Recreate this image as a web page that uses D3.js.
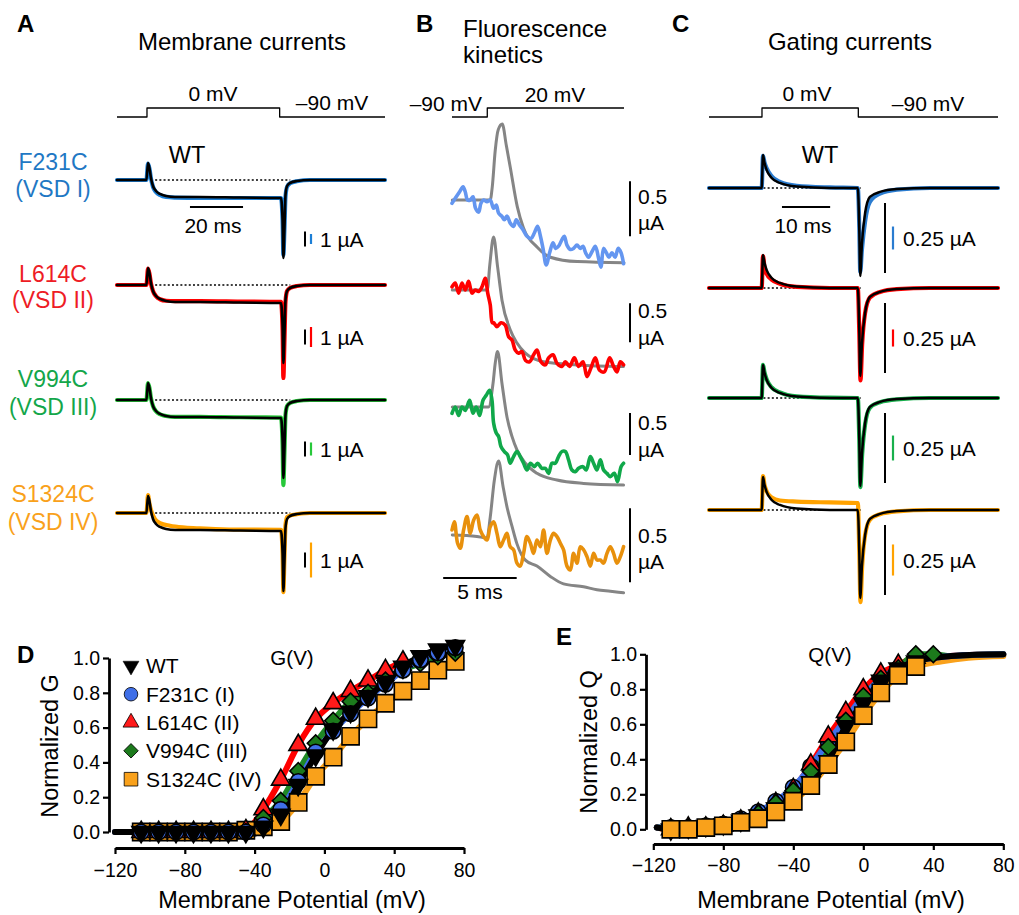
<!DOCTYPE html>
<html><head><meta charset="utf-8">
<script src="https://cdn.jsdelivr.net/npm/d3@7"></script>
<style>body{margin:0;background:#fff}</style>
</head><body>
<svg id="fig" width="1019" height="915"></svg>
<script>
// ======================= DATA =======================
const mutants = ["F231C", "L614C", "V994C", "S1324C"];
const domainsVSD = ["(VSD I)", "(VSD II)", "(VSD III)", "(VSD IV)"];
const legendLabels = ["WT", "F231C (I)", "L614C (II)", "V994C (III)", "S1324C (IV)"];

// Voltage protocols [time ms, mV]
const protocolA = [[-11.3,-90],[0,-90],[0,0],[50,0],[50,-90],[89.7,-90]];
const protocolB = [[-2.4,-90],[0,-90],[0,20],[9.3,20]];
const protocolC = [[-11,-90],[0,-90],[0,0],[20,0],[20,-90],[49,-90]];

// A: membrane currents [ms, µA (WT scale)]
const membraneWT = [[-11.3,0],[-0.2,0],[0.38,1.13],[0.94,0.8],[1.5,0.13],[2.26,-0.4],[3.4,-0.73],[4.9,-0.93],[7.2,-1.07],[10.6,-1.13],[20,-1.13],[35,-1.17],[50.5,-1.2],[51.1,-2.7],[51.4,-5.2],[51.8,-3.3],[52.2,-1.0],[52.8,-0.4],[53.9,-0.2],[56.5,-0.07],[61.4,0],[89.7,0]];
const membraneF231C = [[-11.3,0],[-0.2,0],[0.38,1.1],[0.94,0.75],[1.5,0.1],[2.26,-0.45],[3.4,-0.8],[4.9,-1.0],[7.2,-1.13],[10.6,-1.17],[20,-1.2],[35,-1.2],[50.5,-1.2],[51.1,-2.7],[51.4,-5.0],[51.8,-3.3],[52.2,-1.1],[52.8,-0.45],[53.9,-0.22],[56.5,-0.08],[61.4,0],[89.7,0]];
const membraneL614C = [[-11.3,0],[-0.2,0],[0.38,1.1],[0.94,0.75],[1.5,0.1],[2.26,-0.4],[3.4,-0.75],[4.9,-0.95],[7.2,-1.05],[10.6,-1.07],[20,-1.07],[35,-1.1],[50.5,-1.13],[51.1,-3.0],[51.4,-6.2],[51.8,-3.8],[52.2,-1.1],[52.8,-0.4],[53.9,-0.2],[56.5,-0.07],[61.4,0],[89.7,0]];
const membraneV994C = [[-11.3,0],[-0.2,0],[0.38,1.13],[0.94,0.8],[1.5,0.13],[2.26,-0.4],[3.4,-0.75],[4.9,-0.95],[7.2,-1.07],[10.6,-1.13],[20,-1.13],[35,-1.15],[50.5,-1.17],[51.1,-3.0],[51.4,-5.67],[51.8,-3.5],[52.2,-1.0],[52.8,-0.4],[53.9,-0.2],[56.5,-0.07],[61.4,0],[89.7,0]];
const membraneS1324C = [[-11.3,0],[-0.2,0],[0.38,1.2],[0.94,0.6],[1.9,0],[3.0,-0.4],[4.9,-0.67],[8.7,-0.85],[14.3,-0.97],[20,-1.03],[31,-1.1],[50.5,-1.13],[51.1,-2.7],[51.4,-5.27],[51.8,-3.0],[52.2,-0.8],[52.8,-0.27],[54.8,-0.13],[61.4,0],[89.7,0]];
// colored "1 µA" bar of each mutant, in WT µA
const mutantBarA = [0.67, 1.33, 0.87, 2.33];

// B: gating current (gray) and fluorescence (colored) [ms, µA]
const gatingB1 = [[-2.38,0],[0.2,0],[0.34,0.12],[0.54,0.45],[0.75,0.64],[1.02,0.69],[1.29,0.5],[1.56,0.3],[2.04,-0.06],[2.45,-0.25],[3.4,-0.43],[4.29,-0.52],[6.12,-0.56],[9.3,-0.57]];
const gatingB2 = [[-2.38,0],[0,0],[0.17,0.32],[0.43,0.68],[0.7,0.3],[1.0,-0.13],[1.56,-0.51],[2.02,-0.68],[2.59,-0.81],[3.83,-0.92],[6.1,-0.96],[9.27,-0.98]];
const gatingB3 = [[-2.38,0],[0.09,0],[0.39,0.28],[0.54,0.52],[0.7,0.66],[1.0,0.28],[1.34,-0.12],[1.68,-0.35],[2.02,-0.51],[2.59,-0.67],[3.38,-0.79],[4.74,-0.87],[6.55,-0.91],[9.27,-0.93]];
const gatingB4 = [[-2.38,0],[-0.7,-0.01],[-0.02,-0.02],[0.2,0.12],[0.48,0.37],[0.77,0.5],[1.07,0.33],[1.34,0.19],[1.68,0.06],[2.02,-0.06],[2.59,-0.17],[3.38,-0.21],[4.29,-0.28],[5.19,-0.33],[6.55,-0.35],[7.46,-0.37],[8.37,-0.38],[9.27,-0.39]];
const fluorF231C = [[-2.4,-0.03],[-2.18,0.015],[-1.88,0.075],[-1.65,0.12],[-1.5,0.075],[-1.34,0],[-1.16,0],[-0.97,0.03],[-0.8,-0.075],[-0.59,-0.11],[-0.43,-0.03],[-0.25,0],[-0.02,-0.015],[0.2,0],[0.43,-0.075],[0.61,-0.045],[0.77,-0.12],[1.0,-0.15],[1.16,-0.18],[1.34,-0.145],[1.56,-0.21],[1.79,-0.24],[1.97,-0.18],[2.2,-0.23],[2.43,-0.27],[2.7,-0.33],[2.97,-0.35],[3.2,-0.3],[3.42,-0.24],[3.6,-0.32],[3.79,-0.44],[4.01,-0.59],[4.24,-0.48],[4.47,-0.39],[4.65,-0.44],[4.85,-0.42],[5.08,-0.36],[5.24,-0.33],[5.42,-0.41],[5.65,-0.45],[5.87,-0.44],[6.1,-0.41],[6.33,-0.44],[6.51,-0.42],[6.69,-0.48],[6.89,-0.52],[7.12,-0.47],[7.35,-0.42],[7.57,-0.53],[7.73,-0.61],[7.91,-0.44],[8.1,-0.48],[8.28,-0.52],[8.48,-0.48],[8.69,-0.52],[8.91,-0.44],[9.1,-0.48],[9.27,-0.58]];
const fluorL614C = [[-2.4,0.04],[-2.18,0.09],[-1.95,-0.04],[-1.72,0.09],[-1.5,0],[-1.27,0.11],[-1.04,-0.04],[-0.82,0],[-0.59,-0.02],[-0.36,0.04],[-0.14,0.15],[0.03,-0.04],[0.2,-0.19],[0.34,-0.42],[0.43,-0.42],[0.66,-0.47],[0.93,-0.42],[1.22,-0.45],[1.45,-0.6],[1.68,-0.64],[1.9,-0.77],[2.13,-0.81],[2.36,-0.79],[2.59,-0.9],[2.88,-0.92],[3.15,-0.83],[3.38,-0.77],[3.65,-0.92],[3.95,-0.96],[4.17,-0.87],[4.47,-0.83],[4.74,-0.94],[5.08,-0.98],[5.31,-0.92],[5.6,-0.98],[5.92,-0.87],[6.21,-0.98],[6.51,-0.92],[6.78,-1.11],[7.05,-1.0],[7.35,-0.87],[7.64,-1.03],[7.96,-1.05],[8.32,-0.87],[8.59,-0.98],[8.82,-1.05],[9.05,-0.92],[9.27,-0.96]];
const fluorV994C = [[-2.4,-0.075],[-2.18,0],[-1.95,-0.1],[-1.72,0],[-1.5,-0.04],[-1.2,0.08],[-0.97,-0.075],[-0.75,0],[-0.52,-0.1],[-0.29,0.08],[-0.07,0.14],[0.16,0.2],[0.32,0.08],[0.43,-0.19],[0.61,-0.31],[0.77,-0.35],[0.93,-0.47],[1.16,-0.53],[1.38,-0.57],[1.56,-0.67],[1.79,-0.59],[2.02,-0.53],[2.24,-0.59],[2.47,-0.67],[2.7,-0.75],[2.93,-0.67],[3.2,-0.71],[3.42,-0.67],[3.72,-0.73],[3.95,-0.73],[4.17,-0.79],[4.4,-0.67],[4.63,-0.67],[4.85,-0.59],[5.08,-0.53],[5.31,-0.53],[5.53,-0.63],[5.76,-0.75],[5.99,-0.77],[6.21,-0.73],[6.51,-0.71],[6.73,-0.75],[7.01,-0.59],[7.23,-0.67],[7.46,-0.75],[7.69,-0.63],[7.91,-0.75],[8.14,-0.79],[8.37,-0.83],[8.64,-0.79],[8.86,-0.89],[9.1,-0.71],[9.27,-0.67]];
const fluorS1324C = [[-2.4,0.034],[-2.24,0.09],[-2.02,-0.056],[-1.84,-0.09],[-1.61,0.034],[-1.38,0.124],[-1.16,0.011],[-0.93,0.1],[-0.7,0.135],[-0.48,0.034],[-0.25,-0.011],[-0.02,-0.034],[0.2,0.056],[0.43,0.09],[0.66,0.011],[0.88,-0.079],[1.11,-0.034],[1.34,0.011],[1.56,-0.079],[1.79,-0.1],[2.02,-0.19],[2.24,-0.21],[2.47,-0.124],[2.7,-0.011],[2.93,-0.056],[3.15,-0.124],[3.38,-0.034],[3.61,-0.079],[3.83,0.034],[4.06,-0.124],[4.29,-0.034],[4.51,0.011],[4.74,-0.011],[4.97,-0.056],[5.19,-0.1],[5.42,-0.21],[5.65,-0.236],[5.87,-0.124],[6.1,-0.19],[6.33,-0.079],[6.55,-0.1],[6.78,-0.146],[7.01,-0.21],[7.23,-0.124],[7.46,-0.169],[7.69,-0.169],[7.91,-0.19],[8.14,-0.124],[8.37,-0.079],[8.59,-0.124],[8.82,-0.19],[9.05,-0.146],[9.27,-0.079]];

// C: gating currents [ms, µA]
const gatingWT = [[-11,0],[-0.06,0],[0.21,0.118],[0.52,0.09],[0.98,0.064],[2.01,0.036],[3.73,0.018],[7.2,0.005],[14.1,0],[19.9,0],[20.2,-0.15],[20.4,-0.314],[20.75,-0.2],[21.4,-0.09],[22.4,-0.032],[24.5,-0.014],[28,-0.004],[34.9,0],[49,0]];
const gatingF231C = [[-11,0],[-0.06,0],[0.21,0.115],[0.52,0.092],[0.98,0.07],[2.01,0.042],[3.73,0.022],[7.2,0.008],[14.1,0.002],[19.9,0],[20.2,-0.14],[20.4,-0.3],[20.75,-0.22],[21.4,-0.12],[22.4,-0.05],[24.5,-0.02],[28,-0.006],[34.9,0],[49,0]];
const gatingL614C = [[-11,0],[-0.06,0],[0.21,0.114],[0.52,0.075],[0.98,0.05],[2.01,0.03],[3.73,0.015],[7.2,0.004],[14.1,0],[19.9,0],[20.2,-0.16],[20.45,-0.33],[20.8,-0.2],[21.4,-0.09],[22.4,-0.034],[24.5,-0.014],[28,-0.004],[34.9,0],[49,0]];
const gatingV994C = [[-11,0],[-0.06,0],[0.21,0.118],[0.52,0.092],[0.98,0.066],[2.01,0.038],[3.73,0.02],[7.2,0.006],[14.1,0.001],[19.9,0],[20.2,-0.15],[20.42,-0.318],[20.8,-0.2],[21.4,-0.095],[22.4,-0.035],[24.5,-0.015],[28,-0.005],[34.9,0],[49,0]];
const gatingS1324C = [[-11,0],[-0.06,0],[0.21,0.121],[0.52,0.09],[0.98,0.066],[2.01,0.045],[3.73,0.034],[7.2,0.03],[14.1,0.027],[19.9,0.025],[20.2,-0.15],[20.45,-0.329],[20.8,-0.2],[21.4,-0.09],[22.4,-0.035],[24.5,-0.015],[28,-0.005],[34.9,0],[49,0]];
const mutantBarC = [0.082, 0.061, 0.089, 0.111]; // colored 0.25 µA bars, in WT µA

// D: G(V)
const gvVoltage = [-105,-95,-85,-75,-65,-55,-45,-35,-25,-15,-5,5,15,25,35,45,55,65,75];
const gvWT     = [0,0,0,0,0,0,0,0.03,0.10,0.27,0.44,0.59,0.69,0.78,0.86,0.95,1.01,1.05,1.07];
const gvF231C  = [0,0,0,0,0,0,0,0.04,0.13,0.29,0.46,0.58,0.68,0.77,0.85,0.93,0.99,1.03,1.06];
const gvL614C  = [0,0,0,0,0,0,0.01,0.13,0.30,0.50,0.65,0.74,0.81,0.87,0.93,0.98,null,null,null];
const gvV994C  = [0,0,0,0,0,0,0,0.08,0.18,0.35,0.51,0.64,0.75,0.80,0.87,0.93,0.97,1.01,1.03];
const gvS1324C = [0,0,0,0,0,0,0.01,0.03,0.06,0.17,0.32,0.43,0.55,0.65,0.74,0.81,0.87,0.93,0.98];

// E: Q(V)
const qvVoltage = [-110,-100,-90,-80,-70,-60,-50,-40,-30,-20,-10,0,10,20,30,40];
const qvWT     = [0,0.01,0.02,0.03,0.05,0.08,0.12,0.18,0.27,0.39,0.59,0.72,0.85,0.92,0.96,null];
const qvF231C  = [0.01,0.01,0.02,0.03,0.06,0.10,0.16,0.24,0.36,0.50,0.63,0.76,0.86,0.92,0.96,null];
const qvL614C  = [0,0.01,0.01,0.02,0.05,0.09,0.15,0.23,0.37,0.53,0.67,0.80,0.89,0.94,0.98,null];
const qvV994C  = [0.01,0.01,0.02,0.03,0.05,0.09,0.15,0.22,0.33,0.47,0.62,0.76,0.86,0.92,1.0,1.0];
const qvS1324C = [0,0,0.01,0.02,0.04,0.06,0.10,0.16,0.25,0.37,0.50,0.65,0.78,0.88,0.93,null];
// fit ends [mV, value]
const gvFitStart = [-120, 0];
const qvFitStart = [-118, 0.01];
const qvFitEnd = [[50, 0.99], [65, 0.998], [80, 1.0]];
const qvFitEndS1324C = [[45, 0.96], [60, 0.98], [80, 0.99]];

// ======================= DRAWING =======================
const svg = d3.select("#fig");
const FONT = "'Liberation Sans', Arial, Helvetica, sans-serif";
function T(x, y, s, size, o = {}) {
  return svg.append("text").attr("x", x).attr("y", y)
    .attr("font-family", FONT).attr("font-size", size)
    .attr("text-anchor", o.anchor || "start")
    .attr("font-weight", o.bold ? "bold" : "normal")
    .attr("fill", o.fill || "#000").text(s);
}
function path(data, gen, stroke, width, extra = {}) {
  const p = svg.append("path").datum(data).attr("d", gen).attr("fill", "none")
    .attr("stroke", stroke).attr("stroke-width", width)
    .attr("stroke-linejoin", "round").attr("stroke-linecap", extra.cap || "round");
  if (extra.dash) p.attr("stroke-dasharray", extra.dash);
  return p;
}
function vbar(x, y1, y2, color, w = 2) {
  svg.append("line").attr("x1", x).attr("x2", x).attr("y1", y1).attr("y2", y2)
    .attr("stroke", color).attr("stroke-width", w);
}
function hbar(x1, x2, y, color, w = 2) {
  svg.append("line").attr("x1", x1).attr("x2", x2).attr("y1", y).attr("y2", y)
    .attr("stroke", color).attr("stroke-width", w);
}

const labelColors = ["#1f78c4", "#ee1c25", "#13a64a", "#f9a11b"];

// Panel letters & titles
T(17, 32, "A", 24, {bold: true});
T(416, 32, "B", 24, {bold: true});
T(672, 32, "C", 24, {bold: true});
T(17, 663, "D", 24, {bold: true});
T(556, 645, "E", 24, {bold: true});
T(242, 50, "Membrane currents", 24, {anchor: "middle"});
T(463, 37, "Fluorescence", 24);
T(463, 63, "kinetics", 24);
T(850, 50, "Gating currents", 24, {anchor: "middle"});

// ---------- Panel A ----------
const xA = d3.scaleLinear().domain([-11.3, 89.7]).range([117, 385]);
const yProtoA = d3.scaleLinear().domain([-90, 0]).range([117, 108]);
path(protocolA, d3.line().x(d => xA(d[0])).y(d => yProtoA(d[1])), "#000", 1.3, {cap: "butt"});
T(213, 100.5, "0 mV", 21, {anchor: "middle"});
T(332, 110, "–90 mV", 21, {anchor: "middle"});
T(187, 163, "WT", 23.5, {anchor: "middle"});

const rowsA = [180, 285, 400, 513];
const barCenterA = [239, 337, 449, 560];
const labelBaseA = [[170, 197], [282, 308], [387, 415], [502, 530]];
const aTraceColors = ["#1c7fd6", "#ff0000", "#27c83a", "#ffa200"];
const membraneMutants = [membraneF231C, membraneL614C, membraneV994C, membraneS1324C];
const A_PX = 15; // px per µA
rowsA.forEach((y0, i) => {
  const yA = d3.scaleLinear().domain([0, 1]).range([y0, y0 - A_PX]);
  const line = d3.line().x(d => xA(d[0])).y(d => yA(d[1])).curve(d3.curveMonotoneX);
  path([[1.5, 0], [54, 0]], d3.line().x(d => xA(d[0])).y(d => yA(d[1])), "#000", 1.5, {dash: "2,2.2", cap: "butt"});
  path(membraneMutants[i], line, aTraceColors[i], 4.2);
  path(membraneWT, line, "#000", 2.6);
  T(53, labelBaseA[i][0], mutants[i], 23, {anchor: "middle", fill: labelColors[i]});
  T(53, labelBaseA[i][1], domainsVSD[i], 23, {anchor: "middle", fill: labelColors[i]});
  const c = barCenterA[i];
  const hb = (yA(0) - yA(1)) / 2;
  vbar(305, c - hb, c + hb, "#000", 2);
  const hc = (yA(0) - yA(mutantBarA[i])) / 2;
  vbar(311, c - hc, c + hc, aTraceColors[i], 2.2);
  T(320, c + 7.5, "1 µA", 21);
});
hbar(xA(16.2), xA(36.2), 207, "#000", 2);
T(213, 233, "20 ms", 21, {anchor: "middle"});

// ---------- Panel B ----------
const xB = d3.scaleLinear().domain([-2.4, 9.3]).range([452, 624]);
const yProtoB = d3.scaleLinear().domain([-90, 20]).range([117, 108]);
path(protocolB, d3.line().x(d => xB(d[0])).y(d => yProtoB(d[1])), "#000", 1.3, {cap: "butt"});
T(482, 111, "–90 mV", 21, {anchor: "end"});
T(555, 101.5, "20 mV", 21, {anchor: "middle"});
const rowsB = [200, 290, 407, 535];
const pxPerUAB = [110, 78, 84, 148];
const barTopB = [0.17, -0.17, -0.07, 0.18];
const textBaseB = [[204, 230], [318, 345], [430, 456.5], [543, 568.5]];
const bColors = ["#6496f0", "#ff0000", "#10a84a", "#e8900c"];
const gatingB = [gatingB1, gatingB2, gatingB3, gatingB4];
const fluorB = [fluorF231C, fluorL614C, fluorV994C, fluorS1324C];
rowsB.forEach((y0, i) => {
  const yB = d3.scaleLinear().domain([0, 1]).range([y0, y0 - pxPerUAB[i]]);
  path(gatingB[i], d3.line().x(d => xB(d[0])).y(d => yB(d[1])).curve(d3.curveMonotoneX), "#858585", 3);
  path(fluorB[i], d3.line().x(d => xB(d[0])).y(d => yB(d[1])).curve(d3.curveCatmullRom.alpha(0.5)), bColors[i], 3.6);
  vbar(630, yB(barTopB[i]), yB(barTopB[i] - 0.5), "#000", 2);
  T(638, textBaseB[i][0], "0.5", 21);
  T(638, textBaseB[i][1], "µA", 21);
});
hbar(xB(-3), xB(2), 578, "#000", 2);
T(480, 599, "5 ms", 21, {anchor: "middle"});

// ---------- Panel C ----------
const xC = d3.scaleLinear().domain([-11, 49]).range([709, 998]);
const yProtoC = d3.scaleLinear().domain([-90, 0]).range([117, 108]);
path(protocolC, d3.line().x(d => xC(d[0])).y(d => yProtoC(d[1])), "#000", 1.3, {cap: "butt"});
T(807, 100.5, "0 mV", 21, {anchor: "middle"});
T(928, 111, "–90 mV", 21, {anchor: "middle"});
T(820, 163, "WT", 23.5, {anchor: "middle"});
const rowsC = [188, 288, 398, 510];
const C_PX = 280; // px per µA
const cColors = ["#2a7cd0", "#ff0000", "#18b04c", "#ffa200"];
const gatingMutants = [gatingF231C, gatingL614C, gatingV994C, gatingS1324C];
rowsC.forEach((y0, i) => {
  const yC = d3.scaleLinear().domain([0, 1]).range([y0, y0 - C_PX]);
  const line = d3.line().x(d => xC(d[0])).y(d => yC(d[1])).curve(d3.curveMonotoneX);
  path([[0.3, 0], [20.5, 0]], d3.line().x(d => xC(d[0])).y(d => yC(d[1])), "#000", 1.5, {dash: "2,2.2", cap: "butt"});
  path(gatingMutants[i], line, cColors[i], 4.2);
  path(gatingWT, line, "#000", 2.5);
  vbar(885, yC(-0.054), yC(-0.304), "#000", 2);
  const c = y0 + 50;
  const hc = (yC(0) - yC(mutantBarC[i])) / 2;
  vbar(893, c - hc, c + hc, cColors[i], 2.2);
  T(903, c + 7.5, "0.25 µA", 21);
});
hbar(xC(4.15), xC(14.15), 207, "#000", 2);
T(803, 233, "10 ms", 21, {anchor: "middle"});

// ---------- symbols ----------
const sym = {
  WT: (s) => d3.symbol(d3.symbolTriangle, s)(),
  F231C: (s) => d3.symbol(d3.symbolCircle, s)(),
  L614C: (s) => d3.symbol(d3.symbolTriangle, s)(),
  V994C: (s) => d3.symbol(d3.symbolSquare, s)(),
  S1324C: (s) => d3.symbol(d3.symbolSquare, s)()
};
const rot = {WT: 180, F231C: 0, L614C: 0, V994C: 45, S1324C: 0};
const fillC = {WT: "#000000", F231C: "#3f6fe8", L614C: "#ff1a1a", V994C: "#1c7a1c", S1324C: "#f9a11b"};
const fitC = {WT: "#000000", F231C: "#3f6fe8", L614C: "#ff0000", V994C: "#1f8a26", S1324C: "#f9a11b"};
const sizeData = {WT: 150, F231C: 190, L614C: 150, V994C: 140, S1324C: 295};
const sizeLeg = {WT: 110, F231C: 145, L614C: 110, V994C: 105, S1324C: 185};
const keys = ["WT", "F231C", "L614C", "V994C", "S1324C"];

function drawAxes(x, y, axisX, axisY, padX, padY) {
  const ax = svg.append("g").attr("transform", `translate(0,${axisY})`)
    .call(d3.axisBottom(x).tickValues([-120, -80, -40, 0, 40, 80]).tickSize(6).tickSizeOuter(0).tickPadding(padX));
  const ay = svg.append("g").attr("transform", `translate(${axisX},0)`)
    .call(d3.axisLeft(y).tickValues([0, 0.2, 0.4, 0.6, 0.8, 1.0]).tickFormat(d3.format(".1f")).tickSize(6).tickSizeOuter(0).tickPadding(padY));
  [ax, ay].forEach(g => {
    g.select(".domain").attr("stroke-width", 2.8).attr("stroke", "#000");
    g.selectAll(".tick line").attr("stroke-width", 2.2).attr("stroke", "#000");
    g.selectAll(".tick text").attr("font-family", FONT).attr("font-size", 19.5).attr("fill", "#000");
  });
}

function drawMarkers(x, y, volt, seriesMap, order) {
  order.forEach(k => {
    const pts = volt.map((v, j) => [v, seriesMap[k][j]]).filter(d => d[1] !== null);
    svg.append("g").selectAll("path").data(pts).join("path")
      .attr("d", sym[k](sizeData[k]))
      .attr("transform", d => `translate(${x(d[0])},${y(d[1])}) rotate(${rot[k]})`)
      .attr("fill", fillC[k]).attr("stroke", "#000").attr("stroke-width", 1.6);
  });
}

// ---------- Panel D ----------
const xD = d3.scaleLinear().domain([-120, 80]).range([115, 464]);
const yD = d3.scaleLinear().domain([0, 1]).range([832, 658]);
drawAxes(xD, yD, 109, 848, 9.5, 3);
const gvMap = {WT: gvWT, F231C: gvF231C, L614C: gvL614C, V994C: gvV994C, S1324C: gvS1324C};
const fitLineD = d3.line().x(d => xD(d[0])).y(d => yD(d[1])).curve(d3.curveMonotoneX);
["S1324C", "L614C", "V994C", "F231C", "WT"].forEach(k => {
  const pts = [gvFitStart].concat(gvVoltage.map((v, j) => [v, gvMap[k][j]]).filter(d => d[1] !== null));
  path(pts, fitLineD, fitC[k], 6);
});
drawMarkers(xD, yD, gvVoltage, gvMap, ["S1324C", "L614C", "V994C", "F231C", "WT"]);
T(292, 665, "G(V)", 20.5, {anchor: "middle"});
T(292, 908, "Membrane Potential (mV)", 23.5, {anchor: "middle"});
svg.append("text").attr("transform", "translate(58,746) rotate(-90)")
  .attr("font-family", FONT).attr("font-size", 23.5).attr("text-anchor", "middle").text("Normalized G");
// legend
const legBase = [673.3, 701.7, 730, 758.3, 786.7];
keys.forEach((k, i) => {
  svg.append("path").attr("d", sym[k](sizeLeg[k]))
    .attr("transform", `translate(131,${legBase[i] - 7.5}) rotate(${rot[k]})`)
    .attr("fill", fillC[k]).attr("stroke", "#000").attr("stroke-width", k === "WT" ? 0.5 : 0.8);
  T(146, legBase[i], legendLabels[i], 21);
});

// ---------- Panel E ----------
const xE = d3.scaleLinear().domain([-120, 80]).range([653.3, 1003.3]);
const yE = d3.scaleLinear().domain([0, 1]).range([829.3, 654.3]);
drawAxes(xE, yE, 646, 844, 8.5, 3);
const qvMap = {WT: qvWT, F231C: qvF231C, L614C: qvL614C, V994C: qvV994C, S1324C: qvS1324C};
const fitLineE = d3.line().x(d => xE(d[0])).y(d => yE(d[1])).curve(d3.curveMonotoneX);
["S1324C", "L614C", "V994C", "F231C", "WT"].forEach(k => {
  const body = qvVoltage.map((v, j) => [v, qvMap[k][j]]).filter(d => d[1] !== null);
  const tail = (k === "S1324C" ? qvFitEndS1324C : qvFitEnd).filter(d => d[0] > body[body.length - 1][0]);
  path([qvFitStart].concat(body, tail), fitLineE, fitC[k], 6);
});
drawMarkers(xE, yE, qvVoltage, qvMap, ["F231C", "L614C", "V994C", "WT", "S1324C"]);
T(830, 662, "Q(V)", 20.5, {anchor: "middle"});
T(831, 908, "Membrane Potential (mV)", 23.5, {anchor: "middle"});
svg.append("text").attr("transform", "translate(597,742) rotate(-90)")
  .attr("font-family", FONT).attr("font-size", 23.5).attr("text-anchor", "middle").text("Normalized Q");
</script>
</body></html>
